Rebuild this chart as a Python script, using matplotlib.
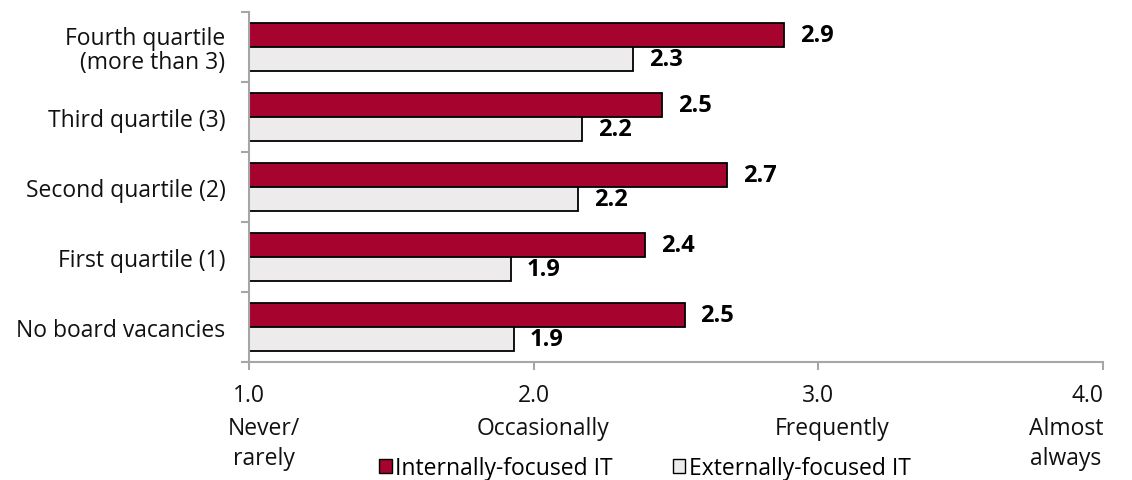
import matplotlib
matplotlib.use("Agg")
import matplotlib.pyplot as plt
from matplotlib.patches import Patch
import numpy as np

plt.rcParams["font.family"] = ["Open Sans", "DejaVu Sans"]

# 由下往上(barh 的 y=0 在底部)
categories = ["No board vacancies", "First quartile (1)", "Second quartile (2)",
              "Third quartile (3)", "Fourth quartile\n(more than 3)"]
internal = [2.53, 2.39, 2.68, 2.45, 2.88]
external = [1.93, 1.92, 2.155, 2.17, 2.35]
internal_labels = ["2.5", "2.4", "2.7", "2.5", "2.9"]
external_labels = ["1.9", "1.9", "2.2", "2.2", "2.3"]
series_names = ["Internally-focused IT", "Externally-focused IT"]
xticks = [1.0, 2.0, 3.0, 4.0]
xtick_desc = ["Never/\nrarely", "Occasionally", "Frequently", "Almost\nalways"]

RED = "#A6032F"
GREY = "#EDEBEB"
AXIS = "#A6A6A6"
W, H = 1132, 481
FS = 16.5

fig = plt.figure(figsize=(W / 100, H / 100), dpi=100)
ax = fig.add_axes([249 / W, 1 - 363 / H, (1103 - 249) / W, (363 - 13) / H])

y = np.arange(len(categories))
h = 0.343
base = 1.0
ax.barh(y + h / 2, np.array(internal) - base, left=base, height=h,
        color=RED, edgecolor="black", linewidth=1.3)
ax.barh(y - h / 2, np.array(external) - base, left=base, height=h,
        color=GREY, edgecolor="black", linewidth=1.3)

for yi, v, lab in zip(y, internal, internal_labels):
    ax.annotate(lab, (v, yi + h / 2), xytext=(16, 0), textcoords="offset pixels",
                va="center", ha="left", fontsize=17, fontweight="bold")
for yi, v, lab in zip(y, external, external_labels):
    ax.annotate(lab, (v, yi - h / 2), xytext=(16, 0), textcoords="offset pixels",
                va="center", ha="left", fontsize=17, fontweight="bold")

ax.set_xlim(1, 4)
ax.set_ylim(-0.5, len(categories) - 0.5)

# y 軸:標籤放在類別中心,刻度線放在類別邊界
ax.set_yticks(y)
ax.set_yticklabels(categories, fontsize=FS, color="#111111", multialignment="right",
                   linespacing=1.0)
ax.tick_params(axis="y", which="major", length=0, pad=17)
ax.set_yticks(np.arange(len(categories) + 1) - 0.5, minor=True)
ax.tick_params(axis="y", which="minor", length=6, width=1.5, color=AXIS, direction="out")

# x 軸:數字與文字說明都用 annotate 自行擺放
ax.set_xticks(xticks)
ax.set_xticklabels([])
ax.tick_params(axis="x", length=6, width=1.5, color=AXIS, direction="out")

desc_align = ["left", "center", "center", "right"]
desc_dx = [-21, 9, 14, 0]
num_align = ["center", "center", "center", "right"]
for i, (xt, d) in enumerate(zip(xticks, xtick_desc)):
    ax.annotate(f"{xt:.1f}", (xt, 0), xycoords=("data", "axes fraction"),
                xytext=(0, -33), textcoords="offset pixels",
                ha=num_align[i], va="center", fontsize=FS, color="#111111")
    ax.annotate(d, (xt, 0), xycoords=("data", "axes fraction"),
                xytext=(desc_dx[i], -54), textcoords="offset pixels",
                ha=desc_align[i], va="top", fontsize=FS, color="#111111",
                linespacing=1.32, multialignment="center")

for s in ["top", "right"]:
    ax.spines[s].set_visible(False)
for s in ["left", "bottom"]:
    ax.spines[s].set_color(AXIS)
    ax.spines[s].set_linewidth(1.5)

handles = [Patch(facecolor=RED, edgecolor="black", linewidth=1.0),
           Patch(facecolor=GREY, edgecolor="black", linewidth=1.0)]
fig.legend(handles, series_names, loc="center", ncol=2, frameon=False,
           bbox_to_anchor=(645 / W, 1 - 469 / H), fontsize=FS,
           handlelength=0.55, handleheight=0.55, handletextpad=0.15,
           columnspacing=2.6, borderpad=0)

fig.savefig("out.png", dpi=100)
plt.close(fig)
